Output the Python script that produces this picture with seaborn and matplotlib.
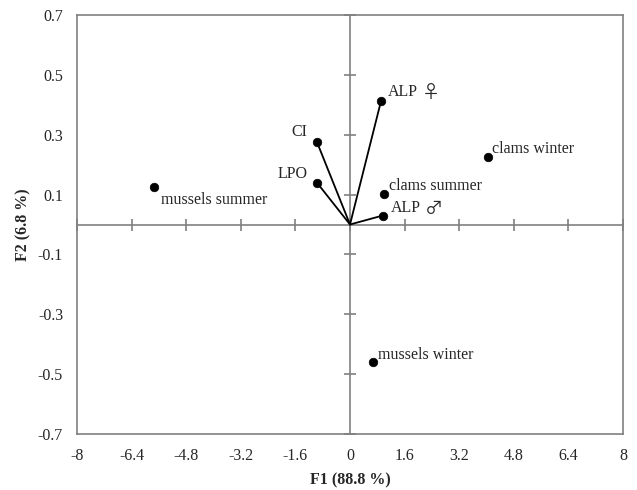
import matplotlib
matplotlib.use("Agg")
import matplotlib.pyplot as plt
import seaborn as sns
import numpy as np
import pandas as pd

# PCA scores (observations) and loadings (variables)
names = ["mussels summer", "CI", "LPO", "ALP", "clams winter", "clams summer", "ALP", "mussels winter"]
sex = ["", "", "", "♀", "", "", "♂", ""]
f1 = [-5.75, -0.97, -0.97, 0.91, 4.04, 1.00, 0.96, 0.66]
f2 = [0.125, 0.276, 0.14, 0.413, 0.227, 0.103, 0.03, -0.46]
is_vector = [False, True, True, True, False, False, True, False]
# label offsets in pixels and alignment
label_dx = [7, -10, -9, 7, 4, 5, 8, 5]
label_dy = [-13, 10, 9, 9, 8, 8, 8, 7]
label_ha = ["left", "right", "right", "left", "left", "left", "left", "left"]

xticks = np.arange(-8, 8.01, 1.6)
yticks = np.arange(-0.7, 0.71, 0.2)


def fmt(v, spec):
    v = round(v, 1)
    if abs(v) < 1e-9:
        v = 0.0
    return (spec % v)


df = pd.DataFrame({"name": names, "F1": f1, "F2": f2, "vector": is_vector})

sns.set_style("white")
plt.rcParams["font.family"] = ["Liberation Serif", "DejaVu Sans"]

fig = plt.figure(figsize=(6.37, 4.9), dpi=100)
pos = [77 / 637, 56 / 490, 546 / 637, 419 / 490]
ax = fig.add_axes(pos)

grey = "#808080"

# loading vectors
for _, r in df[df["vector"]].iterrows():
    ax.plot([0, r["F1"]], [0, r["F2"]], color="black", lw=1.3, zorder=3)

sns.scatterplot(data=df, x="F1", y="F2", color="black", s=38, edgecolor="black", ax=ax, zorder=4)

for i, r in df.iterrows():
    t = ax.annotate(r["name"], (r["F1"], r["F2"]), xytext=(label_dx[i], label_dy[i]),
                    textcoords="offset pixels", ha=label_ha[i], va="center", fontsize=11.5)
    if sex[i]:
        ax.annotate(sex[i], xy=(1, 0.5), xycoords=t, xytext=(4, -1), textcoords="offset pixels",
                    ha="left", va="center", fontsize=13,
                    family=["Noto Sans CJK JP", "Liberation Serif", "DejaVu Sans"])

ax.set_xlim(-8, 8)
ax.set_ylim(-0.7, 0.7)
ax.set_xticks(xticks)
ax.set_xticklabels([fmt(v, "%g") for v in xticks])
ax.set_yticks(yticks)
ax.set_yticklabels([fmt(v, "%.1f") for v in yticks])
ax.tick_params(length=0, labelsize=11.5, pad=10)
for s in ax.spines.values():
    s.set_color(grey)
    s.set_linewidth(1.2)
ax.set_xlabel("F1 (88.8 %)", fontweight="bold", fontsize=11.5, labelpad=6)
ax.set_ylabel("F2 (6.8 %)", fontweight="bold", fontsize=11.5, labelpad=5)

# zero axes with crossing ticks
ax2 = fig.add_axes(pos, sharex=ax, sharey=ax)
ax2.patch.set_alpha(0)
ax2.spines["left"].set_position("zero")
ax2.spines["bottom"].set_position("zero")
ax2.spines["top"].set_visible(False)
ax2.spines["right"].set_visible(False)
for s in ("left", "bottom"):
    ax2.spines[s].set_color(grey)
    ax2.spines[s].set_linewidth(1.2)
ax2.tick_params(bottom=True, left=True, direction="inout", length=8, width=1.2, color=grey,
                labelleft=False, labelbottom=False)
ax2.set_xlabel("")
ax2.set_ylabel("")
ax2.set_zorder(0)
ax.set_zorder(1)
ax.patch.set_alpha(0)
fig.patch.set_facecolor("white")

fig.savefig("out.png", dpi=100)
